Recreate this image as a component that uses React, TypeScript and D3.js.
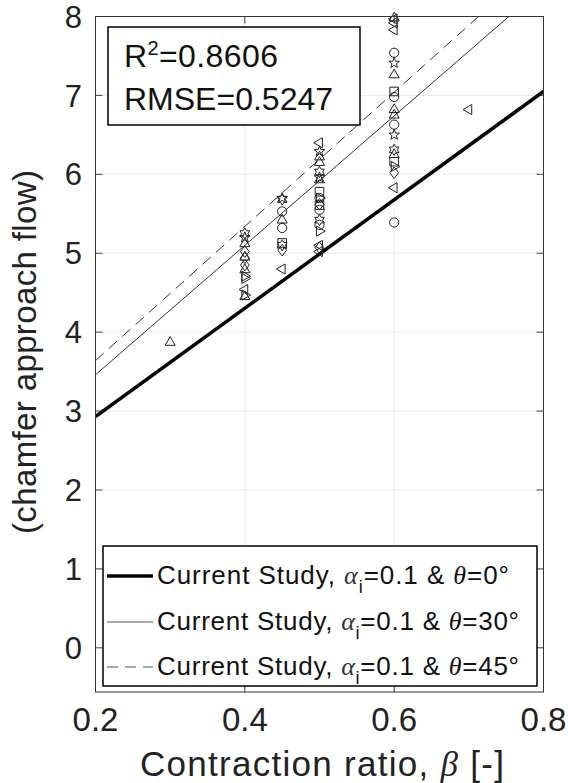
import React from 'react';
import * as d3 from 'd3';

// measured points: contraction ratio, value, marker type
const pointBeta = [
  0.3,
  0.4, 0.4, 0.4, 0.4, 0.4, 0.4, 0.4, 0.4, 0.4, 0.4, 0.4, 0.4, 0.4,
  0.45, 0.45, 0.45, 0.45, 0.45, 0.45, 0.45, 0.45, 0.45,
  0.5, 0.5, 0.5, 0.5, 0.5, 0.5, 0.5, 0.5, 0.5, 0.5, 0.5, 0.5, 0.5, 0.5, 0.5, 0.5, 0.5, 0.5, 0.5,
  0.6, 0.6, 0.6, 0.6, 0.6, 0.6, 0.6, 0.6, 0.6, 0.6, 0.6, 0.6, 0.6, 0.6, 0.6, 0.6, 0.6, 0.6, 0.6, 0.6,
  0.7,
];
const pointValue = [
  3.87,
  5.25, 5.2, 5.12, 5.02, 4.95, 4.94, 4.85, 4.79, 4.71, 4.68, 4.54, 4.45, 4.47,
  5.7, 5.68, 5.53, 5.42, 5.32, 5.13, 5.1, 5.04, 4.8,
  6.4, 6.29, 6.22, 6.15, 6.03, 5.96, 5.93, 5.78, 5.7, 5.7, 5.61, 5.62, 5.55, 5.42, 5.36, 5.28, 5.1, 5.07, 5.02,
  7.98, 7.97, 7.92, 7.83, 7.54, 7.41, 7.26, 7.05, 6.98, 6.82, 6.75, 6.63, 6.5, 6.31, 6.25, 6.16, 6.1, 6.02, 5.83, 5.39,
  6.82,
];
const pointMarker = [
  '^',
  'h', 'p', '^', 'd', '^', 'd', 'd', '^', '>', '>', '<', '^', '>',
  'p', 'h', 'o', '^', 'o', 's', 'h', 'd', '<',
  '<', 'p', '^', '^', 'h', 'p', '^', 's', 'o', '>', 's', 'd', 'o', 'h', 'o', '>', '<', 'd', '<',
  '^', '<', '<', '<', 'o', 'p', '^', 's', 'o', '^', '^', 'o', 'p', 'h', '^', 's', '>', 'd', '<', 'o',
  '<',
];

// fitted lines (value at beta = 0.2 and 0.8)
const lineBeta = [0.2, 0.8];
const line0 = [2.93, 7.05];
const line30 = [3.46, 8.38];
const line45 = [3.64, 8.74];

const xTicks = [0.2, 0.4, 0.6, 0.8];
const yTicks = [0, 1, 2, 3, 4, 5, 6, 7, 8];
const legendAngles = ['0', '30', '45'];

const W = 568;
const H = 783;
const left = 95.5, right = 543.5, top = 16.5, bottom = 692;

function markerPath(t: string) {
  const p = d3.path();
  const r = 5.3;
  if (t === 'o') {
    p.arc(0, 0, 4.6, 0, Math.PI * 2);
  } else if (t === 's') {
    p.rect(-4.3, -4.3, 8.6, 8.6);
  } else if (t === 'd') {
    p.moveTo(0, -5.8); p.lineTo(4.4, 0); p.lineTo(0, 5.8); p.lineTo(-4.4, 0); p.closePath();
  } else if (t === '^' || t === '<' || t === '>') {
    const rot = t === '^' ? -90 : t === '<' ? 180 : 0;
    for (let k = 0; k < 3; k++) {
      const a = ((rot + k * 120) * Math.PI) / 180;
      const x = r * 1.1 * Math.cos(a), y = r * 1.1 * Math.sin(a);
      k === 0 ? p.moveTo(x, y) : p.lineTo(x, y);
    }
    p.closePath();
  } else if (t === 'p' || t === 'h') {
    const n = t === 'p' ? 5 : 6;
    const inner = t === 'p' ? r * 0.42 : r / Math.sqrt(3);
    for (let k = 0; k < n * 2; k++) {
      const a = -Math.PI / 2 + (k * Math.PI) / n;
      const rr = k % 2 === 0 ? r * 1.05 : inner * 1.05;
      const x = rr * Math.cos(a), y = rr * Math.sin(a);
      k === 0 ? p.moveTo(x, y) : p.lineTo(x, y);
    }
    p.closePath();
  }
  return p.toString();
}

export default function App() {
  const x = d3.scaleLinear().domain([0.2, 0.8]).range([left, right]);
  const y = d3.scaleLinear().domain([-0.56, 8]).range([bottom, top]);
  const lineGen = d3
    .line<number>()
    .x((_, i) => x(lineBeta[i]))
    .y((d) => y(d));

  const font = 'Liberation Sans, Arial, sans-serif';
  const legendY = [572, 618, 663];

  return (
    <svg width={W} height={H} style={{ position: 'absolute', left: 0, top: 0, background: '#fff' }}>
      <defs>
        <clipPath id="plotclip">
          <rect x={left} y={top} width={right - left} height={bottom - top} />
        </clipPath>
      </defs>
      <rect x={0} y={0} width={W} height={H} fill="#fff" />

      {/* grid */}
      {yTicks.map((t) => (
        <line key={'gy' + t} x1={left} x2={right} y1={y(t)} y2={y(t)} stroke="#ebebeb" strokeWidth={1} />
      ))}
      {xTicks.slice(1, 3).map((t) => (
        <line key={'gx' + t} x1={x(t)} x2={x(t)} y1={top} y2={bottom} stroke="#ebebeb" strokeWidth={1} />
      ))}

      {/* ticks */}
      {yTicks.map((t) => (
        <g key={'ty' + t}>
          <line x1={left} x2={left + 7} y1={y(t)} y2={y(t)} stroke="#444" />
          <line x1={right} x2={right - 7} y1={y(t)} y2={y(t)} stroke="#444" />
        </g>
      ))}
      {xTicks.map((t) => (
        <g key={'tx' + t}>
          <line x1={x(t)} x2={x(t)} y1={bottom} y2={bottom - 7} stroke="#444" />
          <line x1={x(t)} x2={x(t)} y1={top} y2={top + 7} stroke="#444" />
        </g>
      ))}

      <g clipPath="url(#plotclip)">
        <path d={lineGen(line0) || ''} fill="none" stroke="#000" strokeWidth={3.5} />
        <path d={lineGen(line30) || ''} fill="none" stroke="#333" strokeWidth={1} />
        <path d={lineGen(line45) || ''} fill="none" stroke="#333" strokeWidth={1} strokeDasharray="11 7" />
      </g>

      {pointBeta.map((b, i) => (
        <path
          key={'pt' + i}
          d={markerPath(pointMarker[i])}
          transform={`translate(${x(b)},${y(pointValue[i])})`}
          fill="none"
          stroke="#222"
          strokeWidth={1}
        />
      ))}

      {/* axes box */}
      <rect x={left} y={top} width={right - left} height={bottom - top} fill="none" stroke="#333" strokeWidth={1} />

      {/* R2 box */}
      <rect x={108} y={27} width={252} height={98} fill="#fff" stroke="#000" strokeWidth={1.5} />
      <text x={124} y={67} fontFamily={font} fontSize={32} fill="#111" textLength={154}>
        R<tspan fontSize={20} dy={-12}>2</tspan>
        <tspan dy={12}>=0.8606</tspan>
      </text>
      <text x={124} y={110} fontFamily={font} fontSize={32} fill="#111">
        RMSE=0.5247
      </text>

      {/* tick labels */}
      {yTicks.map((t) => (
        <text key={'ly' + t} x={82} y={y(t)} dy="0.36em" textAnchor="end" fontFamily={font} fontSize={31} fill="#222">
          {t}
        </text>
      ))}
      {xTicks.map((t) => (
        <text key={'lx' + t} x={x(t)} y={731} textAnchor="middle" fontFamily={font} fontSize={33} fill="#222">
          {t.toFixed(1)}
        </text>
      ))}
      <text x={322} y={776} textAnchor="middle" fontFamily={font} fontSize={35} fill="#222" textLength={364}>
        Contraction ratio,{'  '}
        <tspan fontFamily="Liberation Serif, serif" fontStyle="italic">β</tspan> [-]
      </text>
      <text
        transform={`translate(36,352) rotate(-90)`}
        textAnchor="middle"
        fontFamily={font}
        fontSize={33}
        fill="#222"
        textLength={364}
      >
        (chamfer approach flow)
      </text>

      {/* legend */}
      <rect x={103} y={546} width={434} height={140} fill="#fff" stroke="#000" strokeWidth={1.5} />
      {legendAngles.map((a, i) => (
        <g key={'lg' + a}>
          <line
            x1={107}
            x2={153}
            y1={legendY[i] + 4}
            y2={legendY[i] + 4}
            stroke={i === 0 ? '#000' : '#555'}
            strokeWidth={i === 0 ? 3.5 : 1}
            strokeDasharray={i === 2 ? '11 7' : undefined}
          />
          <text
            x={157}
            y={legendY[i] + 12}
            fontFamily={font}
            fontSize={26}
            fill="#111"
            textLength={a === '0' ? 352 : 362}
          >
            Current Study,{' '}
            <tspan fontFamily="Liberation Serif, serif" fontStyle="italic" fill="#333">α</tspan>
            <tspan fontSize={18} dy={9}>i</tspan>
            <tspan dy={-9}>=0.1 &amp; </tspan>
            <tspan fontFamily="Liberation Serif, serif" fontStyle="italic">θ</tspan>
            <tspan>={a}°</tspan>
          </text>
        </g>
      ))}
    </svg>
  );
}
